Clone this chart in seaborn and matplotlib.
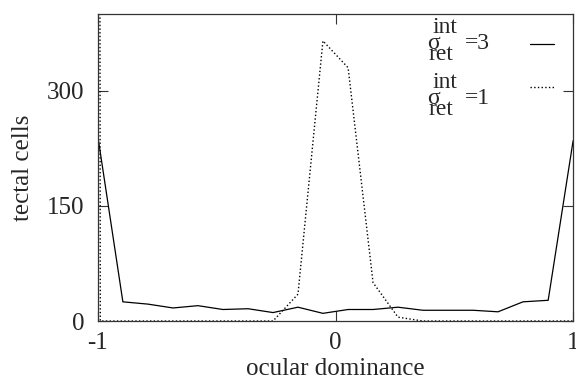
"""Ocular dominance histogram of tectal cells for two retinal interaction widths."""

import numpy as np
import pandas as pd
import seaborn as sns
import matplotlib
matplotlib.use("Agg")
import matplotlib.pyplot as plt

# ocular dominance bins (20 bins from -1 to 1)
OD_BINS = [-1.0, -0.895, -0.789, -0.684, -0.579, -0.474, -0.368, -0.263,
           -0.158, -0.053, 0.053, 0.158, 0.263, 0.368, 0.474, 0.579,
           0.684, 0.789, 0.895, 1.0]
# sigma_ret^int = 3
CELLS_S3 = [240, 25, 22, 17, 20, 15, 16, 11, 18, 10,
            15, 15, 18, 14, 14, 14, 12, 25, 27, 235]

# sigma_ret^int = 1 (first bin is far off-scale)
OD_BINS_S1 = [-1.0, -0.99, -0.895, -0.789, -0.684, -0.579, -0.474, -0.368,
              -0.263, -0.158, -0.053, 0.053, 0.158, 0.263, 0.368, 0.474,
              0.579, 0.684, 0.789, 0.895, 1.0]
CELLS_S1 = [3000, 0, 0, 0, 0, 0, 0, 0, 0, 35, 365, 330, 50, 5,
            0, 0, 0, 0, 0, 0, 0]

SIGMA_VALUES = ["=3", "=1"]

FS = 18      # axis labels / ticks
FS_KEY = 17  # key text


def main():
    sns.set_style("ticks")
    plt.rcParams["font.family"] = ["Liberation Serif", "DejaVu Serif"]
    plt.rcParams["axes.unicode_minus"] = False

    s3 = pd.DataFrame({"od": OD_BINS, "cells": CELLS_S3})
    s1 = pd.DataFrame({"od": OD_BINS_S1, "cells": CELLS_S1})

    fig = plt.figure(figsize=(5.76, 3.79), dpi=100)
    ax = fig.add_axes([0.170, 0.153, 0.825, 0.810])

    sns.lineplot(data=s3, x="od", y="cells", ax=ax, color="black",
                 linewidth=0.9, sort=False)
    sns.lineplot(data=s1, x="od", y="cells", ax=ax, color="black",
                 linewidth=1.0, linestyle=":", sort=False)

    ax.set_xlim(-1, 1)
    ax.set_ylim(0, 400)
    ax.set_xticks([-1, 0, 1])
    ax.set_yticks([0, 150, 300])
    ax.set_xlabel("ocular dominance", fontsize=FS, labelpad=3)
    ax.set_ylabel("tectal cells", fontsize=FS, labelpad=9)
    ax.tick_params(direction="in", length=7, width=0.8, labelsize=FS,
                   top=True, right=True, color="#333333")
    ax.tick_params(axis="x", pad=8)
    ax.tick_params(axis="y", pad=10)
    for sp in ax.spines.values():
        sp.set_visible(True)
        sp.set_linewidth(0.9)
        sp.set_color("#333333")

    # key: sample lines on the right, gnuplot-style stacked sigma labels
    handles = ax.get_lines()[:2]
    ax.legend(handles, [" ", " "], loc="upper right", frameon=False,
              fontsize=FS_KEY, markerfirst=False, handlelength=1.04,
              handletextpad=0, labelspacing=0.91, borderpad=0,
              borderaxespad=0, bbox_to_anchor=(0.9606, 0.928))

    step = 0.179
    for i, val in enumerate(SIGMA_VALUES):
        dy = i * step
        ax.text(0.7046, 0.939 - dy, "int", transform=ax.transAxes,
                fontsize=FS_KEY, va="baseline", ha="left")
        ax.text(0.6926, 0.885 - dy, "σ", transform=ax.transAxes,
                fontsize=FS_KEY, va="baseline", ha="left")
        ax.text(0.6947, 0.850 - dy, "ret", transform=ax.transAxes,
                fontsize=FS_KEY, va="baseline", ha="left")
        ax.text(0.7726, 0.885 - dy, val, transform=ax.transAxes,
                fontsize=FS_KEY, va="baseline", ha="left")

    fig.savefig("out.png", dpi=100)
    plt.close(fig)


if __name__ == "__main__":
    main()
